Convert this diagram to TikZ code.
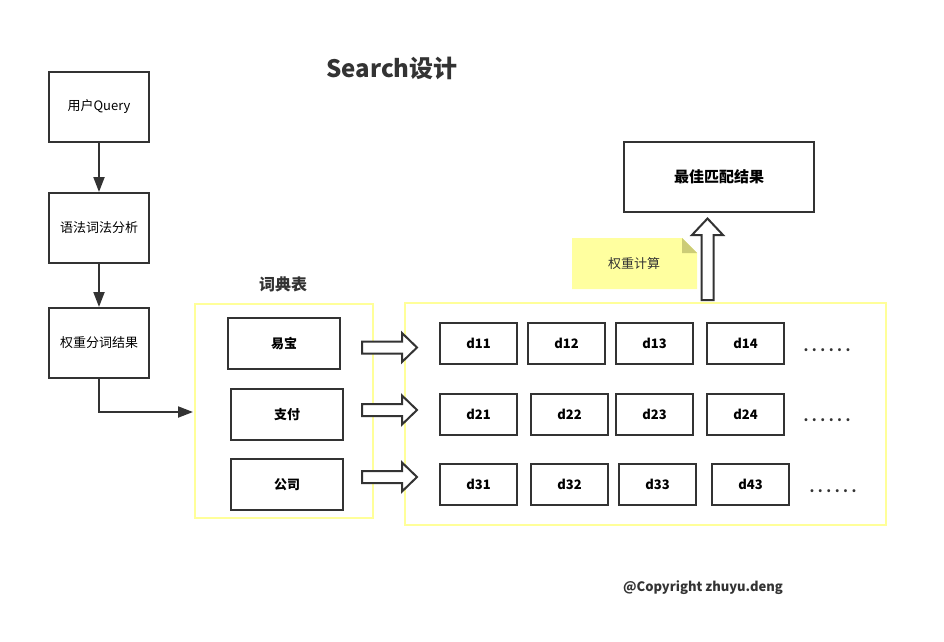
\documentclass[tikz,border=0pt]{standalone}
\usepackage{fontspec}
\setmainfont{Noto Sans CJK SC}
\usetikzlibrary{arrows.meta}
\begin{document}
\begin{tikzpicture}[x=1pt,y=-1pt,
  box/.style={draw=dark,line width=2pt,fill=white,inner sep=0pt,anchor=north west,font=\fontsize{13}{15}\selectfont},
  bbox/.style={box,font=\fontsize{13}{15}\selectfont\bfseries},
  ybox/.style={draw=ylw,line width=2pt,inner sep=0pt,anchor=north west},
  conn/.style={draw=dark,line width=2pt,-{Triangle[length=15pt,width=11pt]}},
  hollow/.style={draw=dark,line width=2pt,fill=white,line join=miter},
  lbl/.style={font=\fontsize{13}{15}\selectfont\bfseries,text=dark},
  dotlbl/.style={font=\fontsize{14}{16}\selectfont\bfseries\addfontfeature{LetterSpace=25},text=dark,anchor=base,inner sep=0pt}]
\definecolor{dark}{HTML}{333333}
\definecolor{ylw}{HTML}{FFFF99}
\definecolor{notey}{HTML}{FFFF9F}
\definecolor{fold}{HTML}{CCCC77}
\useasboundingbox (0,0) rectangle (944,641);

\node[font=\fontsize{24}{28}\selectfont\bfseries,text=dark] (title) at (392,68) {Search设计};

% left flow
\node[box,minimum width=100pt,minimum height=70pt] (q) at (48,71) {用户Query};
\node[box,minimum width=100pt,minimum height=70pt] (a) at (48,192) {语法词法分析};
\node[box,minimum width=100pt,minimum height=70pt] (w) at (48,307) {权重分词结果};
\draw[conn] (q) -- (a);
\draw[conn] (a) -- (w);

% dictionary
\node[lbl,font=\fontsize{16}{19}\selectfont\bfseries] (dictlbl) at (283,284) {词典表};
\node[ybox,minimum width=178pt,minimum height=214pt] (dict) at (194,303) {};
\coordinate (din) at (193,412);
\draw[conn] (w.south) |- (din);
\node[bbox,minimum width=112pt,minimum height=51pt] (k1) at (227,317) {易宝};
\node[bbox,minimum width=112pt,minimum height=51pt] (k2) at (230,388) {支付};
\node[bbox,minimum width=112pt,minimum height=51pt] (k3) at (230,458) {公司};

% postings
\node[ybox,minimum width=481pt,minimum height=222pt] (post) at (404,302) {};

% hollow arrows
\foreach \c in {347.5,410,477}{
  \draw[hollow] (362,\c-6) -- (402,\c-6) -- (402,\c-14.5) -- (417,\c) -- (402,\c+14.5) -- (402,\c+6) -- (362,\c+6) -- cycle;
}

\foreach \n/\x/\y in {d11/439/322,d12/527/322,d13/615/322,d14/706/322,
                      d21/439/393,d22/530/393,d23/615/393,d24/706/393,
                      d31/439/463,d32/530/463,d33/618/463,d43/711/463}{
  \node[bbox,minimum width=77pt,minimum height=41pt] (\n) at (\x,\y) {\n};
}
\node[dotlbl] (dots1) at (827,351.5) {......};
\node[dotlbl] (dots2) at (827,421.5) {......};
\node[dotlbl] (dots3) at (833,492.5) {......};

% note
\fill[notey] (572,238) -- (682,238) -- (697,253) -- (697,289) -- (572,289) -- cycle;
\fill[fold] (682,238) -- (682,253) -- (697,253) -- cycle;
\node[font=\fontsize{13}{15}\selectfont,text=dark] (note) at (634,264) {权重计算};

% up arrow
\draw[hollow] (701.5,300) -- (701.5,235) -- (692,235) -- (707.5,218.5) -- (723,235) -- (713.5,235) -- (713.5,300) -- cycle;

\node[bbox,minimum width=190pt,minimum height=70pt,font=\fontsize{15}{18}\selectfont\bfseries] (best) at (623,141) {最佳匹配结果};

\node[lbl] (copy) at (703,588) {@Copyright zhuyu.deng};
\end{tikzpicture}
\end{document}
